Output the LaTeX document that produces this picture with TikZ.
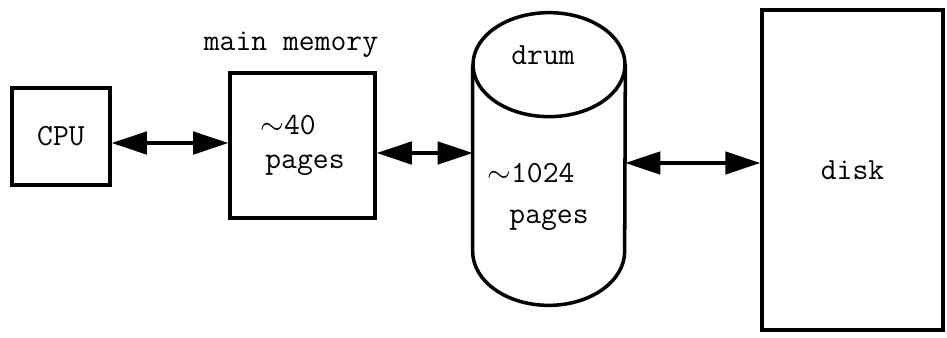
\documentclass[tikz,border=0pt]{standalone}
\usetikzlibrary{arrows.meta}

\begin{document}
\begin{tikzpicture}[
		box/.style={draw, line width=2pt, inner sep=0pt},
		link/.style={line width=1.8pt, {Triangle[length=7mm,width=4.5mm]}-{Triangle[length=7mm,width=4.5mm]}},
		every node/.style={font=\fontsize{17.5}{19}\selectfont\ttfamily}
	]
		\useasboundingbox (0,0) rectangle (18.94,6.74);

		\node[box, minimum width=1.96cm, minimum height=1.94cm] (cpu) at (1.22,4.01) {CPU};
		\node[box, minimum width=2.9cm, minimum height=2.9cm, align=left] (mem) at (6.05,3.83) {$\sim$40\\ \hspace*{1mm}pages};
		\node (memlabel) at (5.82,5.84) {main memory};

		\node[minimum width=3.04cm, minimum height=5.84cm, inner sep=0pt] (drum) at (10.98,3.56) {};
		\draw[line width=2pt] ([yshift=-1.04cm]drum.north west) -- ([yshift=1.08cm]drum.south west)
			arc[start angle=180, end angle=360, x radius=1.52cm, y radius=1.08cm]
			-- ([yshift=-1.04cm]drum.north east);
		\draw[line width=2pt] ([yshift=-1.04cm]drum.north) ellipse[x radius=1.52cm, y radius=1.04cm];
		\node (drumlabel) at (10.86,5.64) {drum};
		\node (drumsize) at (10.62,3.28) {$\sim$1024};
		\node (drumpages) at (10.98,2.34) {pages};

		\node[box, minimum width=3.62cm, minimum height=6.4cm] (disk) at (17.05,3.34) {disk};

		\draw[link] ([yshift=-1.3mm]cpu.east) -- ([yshift=-1.3mm]cpu.east -| mem.west);
		\draw[link] ([yshift=-1.5mm]mem.east) -- ([yshift=-1.5mm]mem.east -| drum.west);
		\draw[link] ([yshift=-0.8mm]drum.east) -- ([yshift=-0.8mm]drum.east -| disk.west);
	\end{tikzpicture}
\end{document}
